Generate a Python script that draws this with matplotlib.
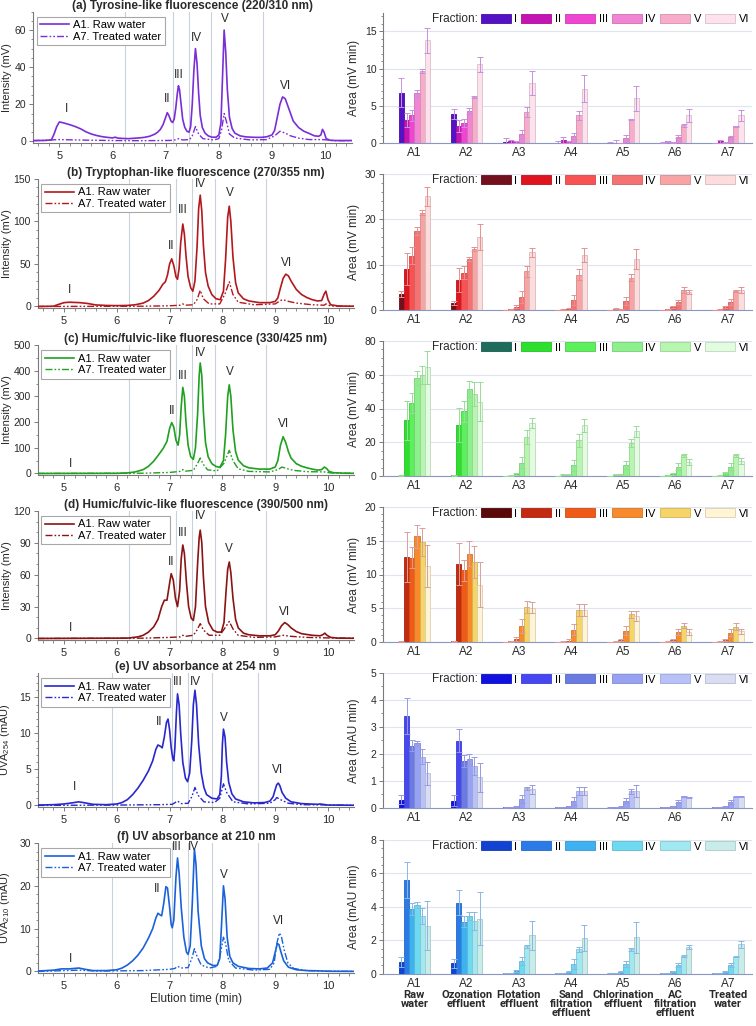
import numpy as np
import matplotlib
matplotlib.use('Agg')
import matplotlib.pyplot as plt
import matplotlib.colors as mcolors
from matplotlib.ticker import MultipleLocator
from matplotlib.lines import Line2D
from matplotlib.patches import Patch
from matplotlib.transforms import blended_transform_factory

plt.rcParams['font.family'] = ['Liberation Sans', 'DejaVu Sans']
plt.rcParams['font.size'] = 8
plt.rcParams['mathtext.default'] = 'regular'
plt.rcParams['axes.linewidth'] = 0.8

W, H = 756, 1026

# ---- categories / labels ----
samples = ['A1', 'A2', 'A3', 'A4', 'A5', 'A6', 'A7']
sample_names = ['Raw\nwater', 'Ozonation\neffluent', 'Flotation\neffluent',
                'Sand\nfiltration\neffluent', 'Chlorination\neffluent',
                'AC\nfiltration\neffluent', 'Treated\nwater']
fractions = ['I', 'II', 'III', 'IV', 'V', 'VI']
series_names = ['A1. Raw water', 'A7. Treated water']
cuts_fl = [6.24, 7.13, 7.43, 7.86, 8.83]
cuts_uv = [5.9, 7.05, 7.35, 7.81, 8.67]

# ---- chromatograms (elution time min, signal) ----
tyr_raw = [(4.5, 0.5), (4.7, 0.5), (4.85, 0.8), (4.9, 4), (4.95, 8), (5.0, 10.5), (5.05, 10.2), (5.1, 9.8),
           (5.2, 9.0), (5.3, 8.0), (5.4, 6.8), (5.45, 6.0), (5.5, 5.2), (5.6, 4.0), (5.7, 3.2), (5.8, 2.6),
           (5.9, 2.2), (6.0, 1.9), (6.05, 2.3), (6.1, 1.8), (6.2, 1.6), (6.3, 1.5), (6.4, 1.7), (6.5, 1.9),
           (6.6, 2.2), (6.7, 2.8), (6.8, 4.0), (6.85, 5.0), (6.9, 6.5), (6.95, 9.0), (7.0, 13), (7.03, 15.5),
           (7.06, 14), (7.1, 11), (7.13, 10.2), (7.16, 12), (7.19, 18), (7.22, 26), (7.24, 30), (7.26, 28),
           (7.29, 20), (7.32, 12), (7.36, 7.5), (7.4, 5.5), (7.44, 5.0), (7.47, 8), (7.5, 20), (7.53, 38),
           (7.56, 50), (7.59, 42), (7.62, 26), (7.65, 14), (7.69, 7.5), (7.74, 4.5), (7.8, 3.0), (7.87, 2.3),
           (7.95, 2.3), (8.0, 3.5), (8.04, 10), (8.07, 35), (8.1, 60), (8.13, 48), (8.16, 28), (8.2, 13),
           (8.25, 7), (8.3, 4.5), (8.4, 3.0), (8.5, 2.5), (8.6, 2.3), (8.7, 2.2), (8.8, 2.2), (8.9, 2.5),
           (9.0, 3.5), (9.05, 6), (9.1, 13), (9.15, 20), (9.2, 24), (9.25, 23), (9.3, 19), (9.35, 15),
           (9.4, 11), (9.5, 7.5), (9.6, 5.5), (9.7, 4.3), (9.8, 3.0), (9.88, 2.8), (9.92, 3.5), (9.95, 6.5),
           (9.98, 5.0), (10.02, 1.5), (10.1, 0.6), (10.2, 0.5), (10.5, 0.5)]
tyr_trt = [(4.5, 0.4), (5.0, 1.0), (5.5, 0.7), (6.0, 0.5), (6.5, 0.4), (7.0, 0.5), (7.15, 0.6), (7.24, 1.5),
           (7.32, 0.8), (7.45, 1.0), (7.5, 3), (7.56, 8), (7.62, 4), (7.7, 1.5), (7.9, 0.8), (8.0, 1.5),
           (8.05, 6), (8.1, 15), (8.15, 10), (8.2, 4), (8.3, 1.8), (8.6, 0.8), (8.9, 1.0), (9.05, 3),
           (9.15, 5.5), (9.25, 4.5), (9.35, 3), (9.5, 1.8), (9.7, 1.0), (9.95, 1.0), (10.2, 0.4), (10.5, 0.4)]

trp_raw = [(4.5, 0), (4.8, 0.3), (4.9, 2.5), (5.0, 4.5), (5.1, 5), (5.3, 4.5), (5.45, 3.5), (5.6, 1.8),
           (5.8, 1.2), (6.0, 1.0), (6.2, 1.2), (6.35, 2.0), (6.5, 4), (6.6, 7), (6.7, 12), (6.8, 19),
           (6.87, 26), (6.92, 29), (6.96, 37), (7.0, 50), (7.04, 56), (7.08, 48), (7.12, 35), (7.15, 32),
           (7.18, 45), (7.21, 75), (7.25, 97), (7.28, 85), (7.31, 60), (7.35, 35), (7.4, 22), (7.44, 18),
           (7.48, 30), (7.52, 70), (7.55, 115), (7.58, 131), (7.61, 112), (7.64, 72), (7.68, 40), (7.73, 24),
           (7.8, 14), (7.88, 9), (7.96, 8), (8.02, 18), (8.06, 55), (8.1, 105), (8.13, 118), (8.16, 100),
           (8.2, 58), (8.25, 28), (8.3, 16), (8.4, 9), (8.5, 6.5), (8.7, 4.5), (8.9, 4.5), (9.0, 6),
           (9.05, 10), (9.1, 22), (9.15, 33), (9.2, 38), (9.25, 36), (9.3, 30), (9.4, 20), (9.5, 14),
           (9.6, 10.5), (9.7, 8), (9.8, 6.5), (9.88, 7), (9.93, 15), (9.96, 18), (10.0, 8), (10.05, 2),
           (10.2, 0.5), (10.5, 0.3)]
trp_trt = [(4.5, 0), (6.5, 0.3), (7.0, 0.8), (7.2, 1.5), (7.25, 3), (7.3, 1.5), (7.45, 2), (7.52, 8),
           (7.58, 19), (7.64, 9), (7.75, 3), (7.95, 3), (8.05, 15), (8.13, 29), (8.2, 14), (8.3, 5),
           (8.6, 2), (9.0, 3), (9.1, 7), (9.15, 8), (9.25, 6), (9.4, 4), (9.7, 2), (9.93, 1.5),
           (9.96, 3), (10.05, 0.5), (10.5, 0.2)]

hum1_raw = [(4.5, 0), (6.0, 0.5), (6.2, 2), (6.35, 6), (6.5, 15), (6.6, 28), (6.7, 48), (6.8, 75),
            (6.88, 98), (6.95, 125), (7.0, 175), (7.04, 198), (7.08, 180), (7.12, 130), (7.16, 110),
            (7.19, 150), (7.22, 260), (7.25, 335), (7.28, 300), (7.31, 200), (7.35, 110), (7.4, 65),
            (7.45, 55), (7.49, 100), (7.53, 230), (7.56, 380), (7.58, 430), (7.61, 380), (7.64, 240),
            (7.68, 120), (7.73, 65), (7.8, 38), (7.88, 27), (7.95, 24), (8.02, 50), (8.06, 150), (8.1, 300),
            (8.13, 345), (8.16, 300), (8.2, 170), (8.25, 85), (8.3, 52), (8.4, 30), (8.5, 22), (8.7, 17),
            (8.9, 17), (9.0, 25), (9.05, 50), (9.1, 110), (9.15, 143), (9.2, 120), (9.25, 85), (9.3, 60),
            (9.4, 38), (9.5, 28), (9.6, 22), (9.7, 17), (9.8, 13), (9.88, 15), (9.93, 25), (9.97, 20),
            (10.02, 8), (10.1, 3), (10.3, 1), (10.5, 0.5)]
hum1_trt = [(4.5, 0), (6.5, 1), (7.0, 4), (7.2, 8), (7.25, 15), (7.3, 9), (7.45, 12), (7.52, 35),
            (7.58, 60), (7.64, 35), (7.72, 14), (7.9, 10), (8.03, 40), (8.13, 90), (8.2, 50), (8.3, 18),
            (8.5, 8), (8.9, 6), (9.05, 15), (9.13, 25), (9.2, 20), (9.35, 12), (9.6, 7), (9.93, 6),
            (10.05, 2), (10.5, 0.5)]

hum2_raw = [(4.5, 0), (6.2, 0.3), (6.4, 1.5), (6.5, 3), (6.6, 6), (6.7, 11), (6.78, 18), (6.85, 30),
            (6.9, 36), (6.95, 36), (7.0, 52), (7.03, 61), (7.07, 55), (7.11, 38), (7.15, 30), (7.19, 45),
            (7.22, 75), (7.25, 88), (7.28, 80), (7.32, 52), (7.36, 30), (7.41, 19), (7.45, 17), (7.49, 30),
            (7.53, 70), (7.56, 95), (7.58, 102), (7.61, 90), (7.64, 58), (7.68, 30), (7.74, 15), (7.82, 8),
            (7.9, 6), (7.98, 6), (8.03, 15), (8.07, 45), (8.1, 65), (8.13, 72), (8.16, 62), (8.2, 38),
            (8.25, 18), (8.3, 10), (8.4, 5), (8.5, 3.5), (8.7, 2.5), (8.9, 2.5), (9.0, 3.5), (9.06, 7),
            (9.12, 12), (9.18, 15), (9.24, 13), (9.3, 10), (9.4, 6.5), (9.5, 4.5), (9.7, 3), (9.85, 2.5),
            (9.9, 3.5), (9.94, 5), (9.98, 3), (10.05, 1), (10.2, 0.3), (10.5, 0.2)]
hum2_trt = [(4.5, 0), (6.5, 0.3), (7.0, 1), (7.2, 1.5), (7.25, 3), (7.3, 2), (7.45, 3), (7.52, 8),
            (7.58, 14), (7.64, 8), (7.75, 3), (7.95, 3), (8.05, 10), (8.13, 16), (8.2, 9), (8.3, 3),
            (8.6, 1), (9.0, 1.5), (9.15, 3), (9.3, 2), (9.6, 1), (10.0, 0.5), (10.5, 0.2)]

uv254_raw = [(4.5, 0.05), (4.8, 0.1), (5.0, 0.2), (5.15, 0.35), (5.28, 0.5), (5.4, 0.35), (5.55, 0.15),
             (5.8, 0.1), (6.0, 0.2), (6.1, 0.4), (6.2, 0.8), (6.3, 1.5), (6.4, 2.4), (6.5, 3.5), (6.6, 4.8),
             (6.68, 6.2), (6.74, 7.8), (6.78, 8.4), (6.83, 8.2), (6.86, 8.0), (6.9, 9.5), (6.94, 11.5),
             (6.97, 12), (7.0, 10.5), (7.03, 8), (7.06, 6.5), (7.08, 6.2), (7.1, 8), (7.13, 13), (7.15, 15.5),
             (7.18, 14), (7.21, 10), (7.25, 6), (7.3, 3.8), (7.34, 3.3), (7.38, 4.5), (7.42, 9), (7.45, 14),
             (7.48, 16), (7.51, 14), (7.55, 8.5), (7.6, 4.5), (7.65, 2.5), (7.7, 1.5), (7.8, 1.0), (7.9, 0.9),
             (7.95, 1.5), (7.98, 4), (8.0, 8.5), (8.02, 10.6), (8.05, 9.5), (8.08, 6), (8.12, 3.2),
             (8.18, 1.6), (8.25, 0.9), (8.4, 0.5), (8.6, 0.35), (8.8, 0.4), (8.9, 0.6), (8.96, 1.2),
             (9.0, 2.2), (9.03, 2.9), (9.06, 3.1), (9.09, 2.7), (9.13, 1.8), (9.2, 1.0), (9.3, 0.5),
             (9.5, 0.25), (9.8, 0.15), (9.85, 0.2), (10.0, 0.05), (10.5, 0.02)]
uv254_trt = [(4.5, 0), (6.0, 0.05), (6.8, 0.1), (7.05, 0.15), (7.15, 0.6), (7.22, 0.25), (7.35, 0.3),
             (7.42, 1.2), (7.48, 2.5), (7.54, 1.4), (7.65, 0.5), (7.85, 0.4), (7.95, 1.0), (8.02, 3.0),
             (8.08, 1.8), (8.2, 0.5), (8.5, 0.2), (8.9, 0.3), (9.0, 0.8), (9.03, 1.1), (9.1, 0.8),
             (9.25, 0.3), (9.5, 0.1), (10.5, 0.02)]

uv210_raw = [(4.5, 0.1), (4.8, 0.3), (4.95, 0.6), (5.1, 0.6), (5.28, 0.8), (5.4, 0.5), (5.55, 0.2),
             (5.8, 0.2), (6.0, 0.4), (6.1, 0.8), (6.2, 1.5), (6.3, 2.5), (6.4, 3.8), (6.5, 5.5), (6.6, 7.8),
             (6.68, 10), (6.74, 12.5), (6.78, 13.6), (6.82, 13.2), (6.85, 13.0), (6.89, 16), (6.93, 19.8),
             (6.96, 19.5), (7.0, 15), (7.03, 11), (7.05, 10.2), (7.08, 12), (7.12, 22), (7.15, 26.5),
             (7.18, 23), (7.22, 15), (7.27, 8), (7.32, 4.5), (7.35, 4.0), (7.39, 6), (7.43, 16), (7.47, 28.5),
             (7.5, 25), (7.54, 14), (7.6, 6), (7.66, 3), (7.72, 2), (7.82, 1.4), (7.9, 1.4), (7.95, 3),
             (7.98, 10), (8.02, 20), (8.05, 17), (8.09, 8), (8.14, 3.5), (8.2, 2.0), (8.3, 1.2), (8.5, 0.7),
             (8.7, 0.6), (8.85, 0.8), (8.95, 2), (9.0, 4.5), (9.04, 6.5), (9.07, 6.3), (9.11, 4.5),
             (9.16, 2.5), (9.25, 1.0), (9.4, 0.4), (9.6, 0.2), (9.8, 0.15), (10.0, 0.05), (10.5, 0.02)]
uv210_trt = [(4.5, 0), (5.0, 0.2), (5.3, 0.3), (5.6, 0.1), (6.5, 0.2), (7.0, 0.5), (7.1, 0.7), (7.15, 1.2),
             (7.22, 0.8), (7.35, 0.9), (7.42, 3), (7.47, 5.3), (7.52, 3.5), (7.6, 1.5), (7.75, 0.8),
             (7.9, 1.2), (7.96, 4), (8.02, 8), (8.06, 6.5), (8.12, 2.5), (8.25, 0.8), (8.6, 0.3), (8.9, 0.5),
             (8.98, 2), (9.03, 6.5), (9.08, 9), (9.12, 8), (9.17, 5), (9.24, 2), (9.35, 0.7), (9.6, 0.2),
             (10.0, 0.05), (10.5, 0.02)]

# ---- peak areas per sample (rows A1..A7, columns fraction I..VI) ----
tyr_area = [[6.8, 3.1, 3.75, 6.7, 9.7, 13.8],
            [3.9, 2.3, 2.7, 4.3, 6.2, 10.6],
            [0.2, 0.3, 0.2, 1.25, 4.15, 8.1],
            [0.1, 0.4, 0.15, 1.0, 3.75, 7.3],
            [0.05, 0.1, 0.05, 0.7, 3.2, 6.0],
            [0.1, 0.25, 0.1, 0.9, 2.4, 3.75],
            [0.05, 0.25, 0.1, 0.8, 2.25, 3.75]]
tyr_err = [[2.0, 0.9, 0.7, 0.5, 0.25, 1.7],
           [0.65, 0.8, 0.5, 0.4, 0.1, 1.0],
           [0.45, 0.2, 0.1, 0.5, 0.65, 1.6],
           [0.2, 0.4, 0.1, 0.4, 0.6, 1.8],
           [0.1, 0.3, 0.05, 0.4, 0.1, 1.7],
           [0.1, 0.1, 0.05, 0.2, 0.2, 0.9],
           [0.05, 0.2, 0.05, 0.2, 0.05, 0.7]]

trp_area = [[3.6, 9.0, 12.0, 17.4, 21.5, 25.1],
            [1.5, 6.6, 8.2, 11.3, 13.4, 16.1],
            [0.05, 0.2, 0.7, 2.9, 8.5, 12.7],
            [0.05, 0.15, 0.3, 2.2, 7.8, 12.1],
            [0.05, 0.3, 0.15, 2.05, 7.1, 11.25],
            [0.05, 0.15, 0.6, 1.75, 4.4, 4.0],
            [0.05, 0.2, 0.6, 1.75, 4.25, 4.4]]
trp_err = [[0.7, 3.5, 1.9, 0.8, 0.6, 2.1],
           [0.4, 2.6, 1.4, 0.5, 0.4, 2.9],
           [0.05, 0.1, 0.3, 1.3, 1.2, 1.0],
           [0.05, 0.1, 0.2, 1.0, 1.2, 1.6],
           [0.05, 0.1, 0.1, 0.85, 0.8, 2.1],
           [0.05, 0.1, 0.2, 0.4, 0.6, 0.5],
           [0.05, 0.1, 0.2, 0.75, 0.2, 0.6]]

hum1_area = [[0.3, 33.0, 43.1, 58.0, 60.0, 64.3],
             [0.3, 30.2, 38.4, 51.6, 48.6, 44.1],
             [0.1, 0.2, 1.2, 8.0, 23.1, 31.6],
             [0.1, 0.6, 0.6, 6.3, 21.2, 30.0],
             [0.1, 0.6, 0.8, 6.3, 19.6, 26.5],
             [0.1, 0.3, 1.2, 5.5, 12.2, 8.4],
             [0.1, 0.3, 2.0, 5.5, 12.2, 9.0]]
hum1_err = [[0.1, 11.7, 5.9, 4.0, 5.3, 9.7],
            [0.1, 10.0, 6.3, 4.9, 7.4, 11.4],
            [0.05, 0.2, 0.5, 3.4, 4.0, 2.9],
            [0.05, 0.3, 0.3, 3.1, 3.9, 3.7],
            [0.05, 0.3, 0.3, 2.3, 2.4, 3.3],
            [0.05, 0.2, 0.4, 2.0, 1.1, 1.8],
            [0.05, 0.2, 0.5, 2.0, 1.1, 1.6]]

hum2_area = [[0.1, 12.6, 12.5, 15.7, 14.85, 11.25],
             [0.1, 11.6, 10.6, 13.1, 11.85, 8.5],
             [0.0, 0.1, 0.45, 2.4, 5.2, 5.1],
             [0.0, 0.05, 0.2, 1.8, 4.75, 4.75],
             [0.0, 0.05, 0.3, 1.7, 4.1, 3.85],
             [0.0, 0.05, 0.3, 1.5, 2.4, 1.5],
             [0.0, 0.05, 0.35, 1.4, 2.25, 1.6]]
hum2_err = [[0.05, 3.7, 1.6, 1.7, 2.1, 3.1],
            [0.05, 3.1, 1.6, 1.8, 2.4, 3.3],
            [0.0, 0.1, 0.3, 1.0, 0.85, 0.8],
            [0.0, 0.05, 0.2, 0.8, 0.9, 0.9],
            [0.0, 0.05, 0.2, 0.6, 0.5, 0.8],
            [0.0, 0.05, 0.15, 0.4, 0.35, 0.5],
            [0.0, 0.05, 0.15, 0.5, 0.5, 0.4]]

uv254_area = [[0.3, 3.4, 2.3, 2.39, 1.9, 1.28],
              [0.26, 2.48, 1.73, 1.8, 1.55, 1.13],
              [0.01, 0.03, 0.06, 0.33, 0.72, 0.68],
              [0.03, 0.03, 0.06, 0.26, 0.63, 0.61],
              [0.01, 0.03, 0.04, 0.26, 0.61, 0.61],
              [0.03, 0.03, 0.06, 0.22, 0.43, 0.38],
              [0.03, 0.03, 0.05, 0.21, 0.41, 0.41]]
uv254_err = [[0.17, 0.66, 0.2, 0.1, 0.27, 0.43],
             [0.21, 0.43, 0.22, 0.2, 0.32, 0.54],
             [0.01, 0.01, 0.02, 0.14, 0.05, 0.16],
             [0.01, 0.01, 0.02, 0.15, 0.15, 0.15],
             [0.01, 0.01, 0.02, 0.09, 0.1, 0.22],
             [0.01, 0.01, 0.02, 0.06, 0.02, 0.03],
             [0.01, 0.01, 0.02, 0.06, 0.02, 0.02]]

uv210_area = [[0.7, 5.6, 3.86, 4.12, 3.46, 2.88],
              [0.62, 4.26, 3.12, 3.44, 3.16, 3.28],
              [0.04, 0.04, 0.18, 0.76, 1.64, 2.3],
              [0.06, 0.04, 0.12, 0.58, 1.46, 2.12],
              [0.04, 0.04, 0.12, 0.58, 1.46, 2.18],
              [0.04, 0.04, 0.14, 0.52, 1.06, 1.62],
              [0.04, 0.06, 0.14, 0.5, 1.02, 1.76]]
uv210_err = [[0.28, 1.1, 0.36, 0.16, 0.46, 1.48],
             [0.28, 0.76, 0.34, 0.24, 0.54, 1.58],
             [0.01, 0.01, 0.05, 0.26, 0.08, 0.86],
             [0.01, 0.01, 0.04, 0.28, 0.16, 0.78],
             [0.01, 0.01, 0.04, 0.2, 0.08, 0.92],
             [0.01, 0.01, 0.04, 0.12, 0.06, 0.12],
             [0.01, 0.01, 0.04, 0.12, 0.04, 0.2]]

# ---- styling per panel ----
panels = [
    dict(title='(a) Tyrosine-like fluorescence (220/310 nm)', raw=tyr_raw, trt=tyr_trt, line='#7a2ed6',
         lx=(32.8, 351.7), lrow=(11.5, 143), ytop=70, ymaj=20, ymin=5, ylab='Intensity (mV)', cuts=cuts_fl,
         peaks=[(5.13, 17.5), (7.02, 23), (7.24, 36), (7.57, 55.5), (8.12, 66), (9.25, 30)],
         area=tyr_area, err=tyr_err, ecol='#c890e0', rrow=(12.6, 143.3), rtop=17.5, rmaj=5, rmin=1,
         rlab='Area (mV min)',
         fill=['#5511c4', '#c414b4', '#f044d2', '#f284d4', '#f8acca', '#fde2ee']),
    dict(title='(b) Tryptophan-like fluorescence (270/355 nm)', raw=trp_raw, trt=trp_trt, line='#b3181c',
         lx=(37.6, 354.4), lrow=(179, 308), ytop=150, ymaj=50, ymin=10, ylab='Intensity (mV)', cuts=cuts_fl,
         peaks=[(5.1, 19), (7.02, 71), (7.25, 113), (7.58, 144), (8.14, 134), (9.22, 51)],
         area=trp_area, err=trp_err, ecol='#e89090', rrow=(174, 310), rtop=30, rmaj=10, rmin=2,
         rlab='Area (mV min)',
         fill=['#74101e', '#e0141e', '#f85252', '#f47272', '#f8a4a4', '#fcdcdc']),
    dict(title='(c) Humic/fulvic-like fluorescence (330/425 nm)', raw=hum1_raw, trt=hum1_trt, line='#1fa01f',
         lx=(37.6, 354.4), lrow=(345, 475), ytop=500, ymaj=100, ymin=50, ylab='Intensity (mV)', cuts=cuts_fl,
         peaks=[(5.13, 38), (7.04, 243), (7.25, 381), (7.58, 470), (8.14, 393), (9.15, 192)],
         area=hum1_area, err=hum1_err, ecol='#98dc98', rrow=(341, 476), rtop=80, rmaj=20, rmin=5,
         rlab='Area (mV min)',
         fill=['#1f6b5c', '#2ee02e', '#5cf05c', '#8cf08c', '#b6f6ae', '#e2fce0']),
    dict(title='(d) Humic/fulvic-like fluorescence (390/500 nm)', raw=hum2_raw, trt=hum2_trt, line='#8a1414',
         lx=(37.6, 354.4), lrow=(511, 640), ytop=120, ymaj=30, ymin=10, ylab='Intensity (mV)', cuts=cuts_fl,
         peaks=[(5.13, 10), (7.02, 71.6), (7.25, 99.5), (7.58, 115), (8.12, 84.6), (9.17, 25)],
         area=hum2_area, err=hum2_err, ecol='#d8a0a0', rrow=(507, 642), rtop=20, rmaj=5, rmin=1,
         rlab='Area (mV min)',
         fill=['#5a0808', '#c42a10', '#f05a18', '#f88a2c', '#f6d468', '#fff4d4']),
    dict(title='(e) UV absorbance at 254 nm', raw=uv254_raw, trt=uv254_trt, line='#2828cc',
         lx=(37.6, 354.4), lrow=(673, 807), ytop=18.4, ymaj=5, ymin=1, ylab='UVA$_{254}$ (mAU)', cuts=cuts_uv,
         peaks=[(5.19, 2.5), (6.8, 11.6), (7.15, 17.2), (7.48, 17.2), (8.02, 12.2), (9.05, 4.9)],
         area=uv254_area, err=uv254_err, ecol='#9898e8', rrow=(673, 807.7), rtop=5, rmaj=1, rmin=0.5,
         rlab='Area (mAU min)',
         fill=['#1212e0', '#4646f2', '#6a7ce2', '#98a2f2', '#b8c2f8', '#d8ddf4']),
    dict(title='(f) UV absorbance at 210 nm', raw=uv210_raw, trt=uv210_trt, line='#1a62da',
         lx=(37.6, 354.4), lrow=(843, 973), ytop=30, ymaj=10, ymin=2, ylab='UVA$_{210}$ (mAU)', cuts=cuts_uv,
         peaks=[(5.13, 3), (6.76, 19.2), (7.13, 29), (7.45, 29), (8.02, 22.6), (9.07, 11.8)],
         area=uv210_area, err=uv210_err, ecol='#88b8e8', rrow=(840, 973.7), rtop=8, rmaj=2, rmin=0.5,
         rlab='Area (mAU min)',
         fill=['#1242d2', '#2a7ae8', '#3eb2f0', '#6edaf2', '#a0e8f2', '#c8ecea']),
]

TXT = '#2a2a2a'
SPINE = '#7a7a7a'
GRID = '#dfe5ee'
CUT = '#c9d1dd'
narrow = ['Liberation Sans Narrow', 'Roboto', 'DejaVu Sans']
DASH = (0, (5, 1.5, 1.2, 1.5, 1.2, 1.5))


def px_rect(x0, x1, top, bot):
    return [x0 / W, 1 - bot / H, (x1 - x0) / W, (bot - top) / H]


def shade(c, f=0.8):
    r, g, b = mcolors.to_rgb(c)
    return (r * f, g * f, b * f)


def style_axis(ax):
    for s in ['top', 'right']:
        ax.spines[s].set_visible(False)
    for s in ['left', 'bottom']:
        ax.spines[s].set_color(SPINE)
        ax.spines[s].set_linewidth(0.8)
    ax.tick_params(which='both', direction='out', colors=SPINE, labelcolor=TXT, labelsize=7.5)
    ax.tick_params(which='major', length=3, width=0.7, pad=1.8)
    ax.tick_params(which='minor', length=1.8, width=0.6)


fig = plt.figure(figsize=(W / 100, H / 100), dpi=100)
bar_axes = []
x = np.arange(len(samples))
w = 0.1

for i, p in enumerate(panels):
    # ---- chromatogram ----
    ax = fig.add_axes(px_rect(p['lx'][0], p['lx'][1], p['lrow'][0], p['lrow'][1]))
    style_axis(ax)
    ax.tick_params(axis='x', labelsize=8, pad=2.5)
    for c in p['cuts']:
        ax.axvline(c, color=CUT, lw=0.8, zorder=0)
    raw = np.array(p['raw'])
    trt = np.array(p['trt'])
    ax.plot(raw[:, 0], raw[:, 1], color=p['line'], lw=1.2, zorder=3)
    ax.plot(trt[:, 0], trt[:, 1], color=p['line'], lw=1.0, zorder=3, linestyle=DASH)
    ax.set_xlim(4.5, 10.5)
    ax.set_ylim(-0.012 * p['ytop'], p['ytop'])
    ax.xaxis.set_major_locator(MultipleLocator(1))
    ax.xaxis.set_minor_locator(MultipleLocator(0.2))
    ax.yaxis.set_major_locator(MultipleLocator(p['ymaj']))
    ax.yaxis.set_minor_locator(MultipleLocator(p['ymin']))
    ax.set_ylabel(p['ylab'], fontsize=8, color=TXT)
    ax.yaxis.set_label_coords((12.5 - p['lx'][0]) / (p['lx'][1] - p['lx'][0]), 0.5)
    ax.set_title(p['title'], fontsize=8.5, fontweight='bold', color=TXT, pad=1.5)
    for lab, (px, py) in zip(fractions, p['peaks']):
        ax.text(px, py, lab, ha='center', va='center', fontsize=8.5, color=TXT)
    handles = [Line2D([], [], color=p['line'], lw=1.2),
               Line2D([], [], color=p['line'], lw=1.0, linestyle=DASH)]
    leg = ax.legend(handles, series_names, loc='upper left', bbox_to_anchor=(0.012, 0.96),
                    borderaxespad=0, fontsize=8, handlelength=2.6, handletextpad=0.4,
                    labelspacing=0.15, borderpad=0.3, fancybox=False, framealpha=1)
    leg.get_frame().set_edgecolor('#a8a8a8')
    leg.get_frame().set_linewidth(0.8)
    if i == len(panels) - 1:
        ax.set_xlabel('Elution time (min)', fontsize=8.5, color=TXT, labelpad=2)

    # ---- peak areas ----
    bx = fig.add_axes(px_rect(383, 752, p['rrow'][0], p['rrow'][1]))
    style_axis(bx)
    bx.spines['bottom'].set_color('#8a96c4')
    area = np.array(p['area'])
    err = np.array(p['err'])
    for k in range(len(fractions)):
        xs = x + (k - 2.5) * w
        bx.bar(xs, area[:, k], w, color=p['fill'][k], edgecolor=shade(p['fill'][k], 0.85),
               lw=0.6, zorder=2, label=fractions[k])
        bx.errorbar(xs, area[:, k], yerr=err[:, k], fmt='none', ecolor=p['ecol'],
                    elinewidth=0.7, capsize=2, capthick=0.7, zorder=3)
    bx.set_xlim(-0.6, 6.46)
    bx.set_ylim(0, p['rtop'])
    bx.yaxis.set_major_locator(MultipleLocator(p['rmaj']))
    bx.yaxis.set_minor_locator(MultipleLocator(p['rmin']))
    bx.grid(axis='y', which='major', color=GRID, lw=0.8, zorder=0)
    bx.set_axisbelow(True)
    bx.set_xticks(x)
    bx.set_xticklabels(samples, fontsize=8.5)
    bx.tick_params(axis='x', length=0, pad=3)
    bx.set_ylabel(p['rlab'], fontsize=8.5, color=TXT)
    bx.yaxis.set_label_coords(-0.062, 0.5)
    handles = [Patch(facecolor=p['fill'][k], edgecolor=shade(p['fill'][k], 0.85), lw=0.6)
               for k in range(len(fractions))]
    bleg = bx.legend(handles, fractions, ncol=6, loc='upper right', bbox_to_anchor=(0.995, 1.0),
                     borderaxespad=0, frameon=False, fontsize=8, handlelength=2.7,
                     handleheight=0.9, handletextpad=0.3, columnspacing=0.4, borderpad=0.1)
    bar_axes.append((bx, bleg))
    if i == len(panels) - 1:
        tr = blended_transform_factory(bx.transData, bx.transAxes)
        for j, name in enumerate(sample_names):
            bx.annotate(name, xy=(j, 0), xycoords=tr, xytext=(0, -11.8), textcoords='offset points',
                        ha='center', va='top', fontsize=8, fontweight='bold', color=TXT,
                        linespacing=0.9, family=narrow)

fig.canvas.draw()
rend = fig.canvas.get_renderer()
for bx, bleg in bar_axes:
    bb = bleg.get_window_extent(rend)
    inv = bx.transAxes.inverted()
    (x0, y0), (x1, y1) = inv.transform([(bb.x0, bb.y0), (bb.x1, bb.y1)])
    bx.text(x0 - 0.004, (y0 + y1) / 2, 'Fraction:', ha='right', va='center',
            fontsize=8.5, color=TXT, transform=bx.transAxes)

fig.savefig('out.png', dpi=100)
